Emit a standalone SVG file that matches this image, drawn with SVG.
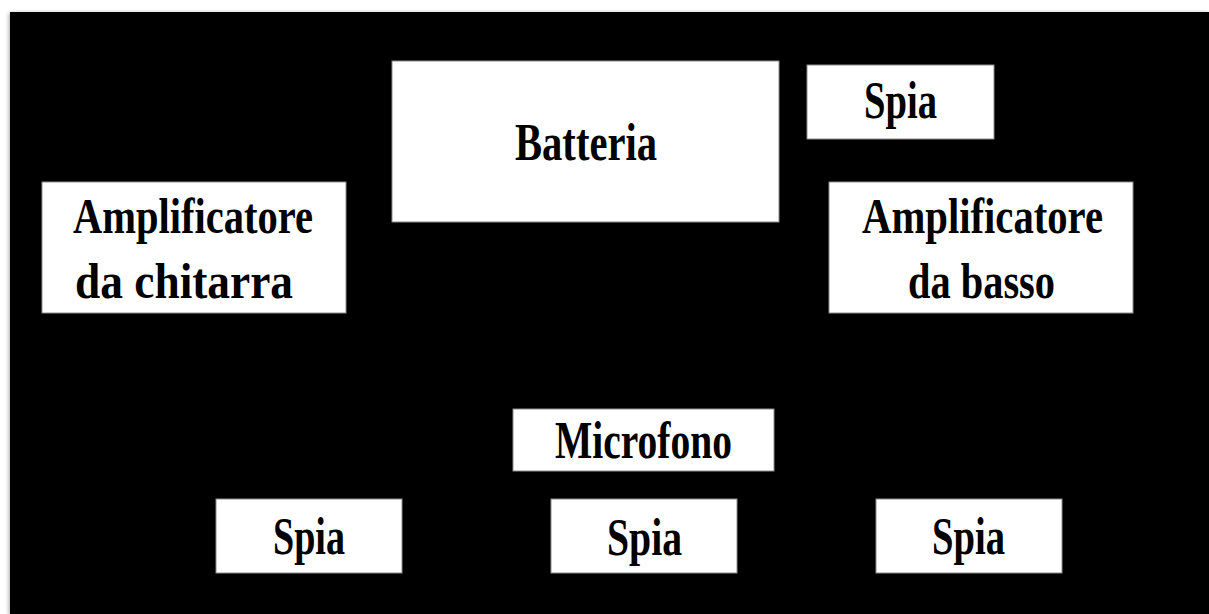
<svg xmlns="http://www.w3.org/2000/svg" width="1209" height="614" viewBox="0 0 1209 614">
<defs>
<style>
.box{fill:#ffffff;stroke:#8c8c8c;stroke-width:1}
.t{font-family:"Liberation Serif","DejaVu Serif",serif;font-weight:bold;fill:#000000;font-size:53px}
.s{font-size:50px}
</style>
<filter id="sh" x="-5%" y="-5%" width="110%" height="110%">
<feGaussianBlur in="SourceAlpha" stdDeviation="2"/>
<feOffset dx="-1" dy="1"/>
<feComponentTransfer><feFuncA type="linear" slope="0.35"/></feComponentTransfer>
<feMerge><feMergeNode/><feMergeNode in="SourceGraphic"/></feMerge>
</filter>
</defs>
<rect x="0" y="0" width="1209" height="614" fill="#ffffff"/>
<rect x="10" y="12" width="1199" height="602" fill="#000000" filter="url(#sh)"/>
<g id="connectors"></g>
<g id="batteria">
<rect class="box" x="392" y="61" width="387" height="161"/>
<text class="t" x="515" y="160" textLength="142" lengthAdjust="spacingAndGlyphs">Batteria</text>
</g>
<g id="spia-top">
<rect class="box" x="807" y="65" width="187" height="74"/>
<text class="t" x="864" y="118" textLength="73" lengthAdjust="spacingAndGlyphs">Spia</text>
</g>
<g id="amp-chitarra">
<rect class="box" x="42" y="182" width="304" height="131"/>
<text class="t s" x="73" y="233" textLength="240" lengthAdjust="spacingAndGlyphs">Amplificatore</text>
<text class="t s" x="75" y="298" textLength="218" lengthAdjust="spacingAndGlyphs">da chitarra</text>
</g>
<g id="amp-basso">
<rect class="box" x="829" y="182" width="304" height="131"/>
<text class="t s" x="862" y="233" textLength="241" lengthAdjust="spacingAndGlyphs">Amplificatore</text>
<text class="t s" x="908" y="298" textLength="147" lengthAdjust="spacingAndGlyphs">da basso</text>
</g>
<g id="microfono">
<rect class="box" x="513" y="409" width="261" height="62"/>
<text class="t" x="555" y="458" textLength="177" lengthAdjust="spacingAndGlyphs">Microfono</text>
</g>
<g id="spia-left">
<rect class="box" x="216" y="499" width="186" height="74"/>
<text class="t" x="273" y="554" textLength="72" lengthAdjust="spacingAndGlyphs">Spia</text>
</g>
<g id="spia-mid">
<rect class="box" x="551" y="499" width="186" height="74"/>
<text class="t" x="607" y="555" textLength="75" lengthAdjust="spacingAndGlyphs">Spia</text>
</g>
<g id="spia-right">
<rect class="box" x="876" y="499" width="186" height="74"/>
<text class="t" x="932" y="554" textLength="73" lengthAdjust="spacingAndGlyphs">Spia</text>
</g>
</svg>
